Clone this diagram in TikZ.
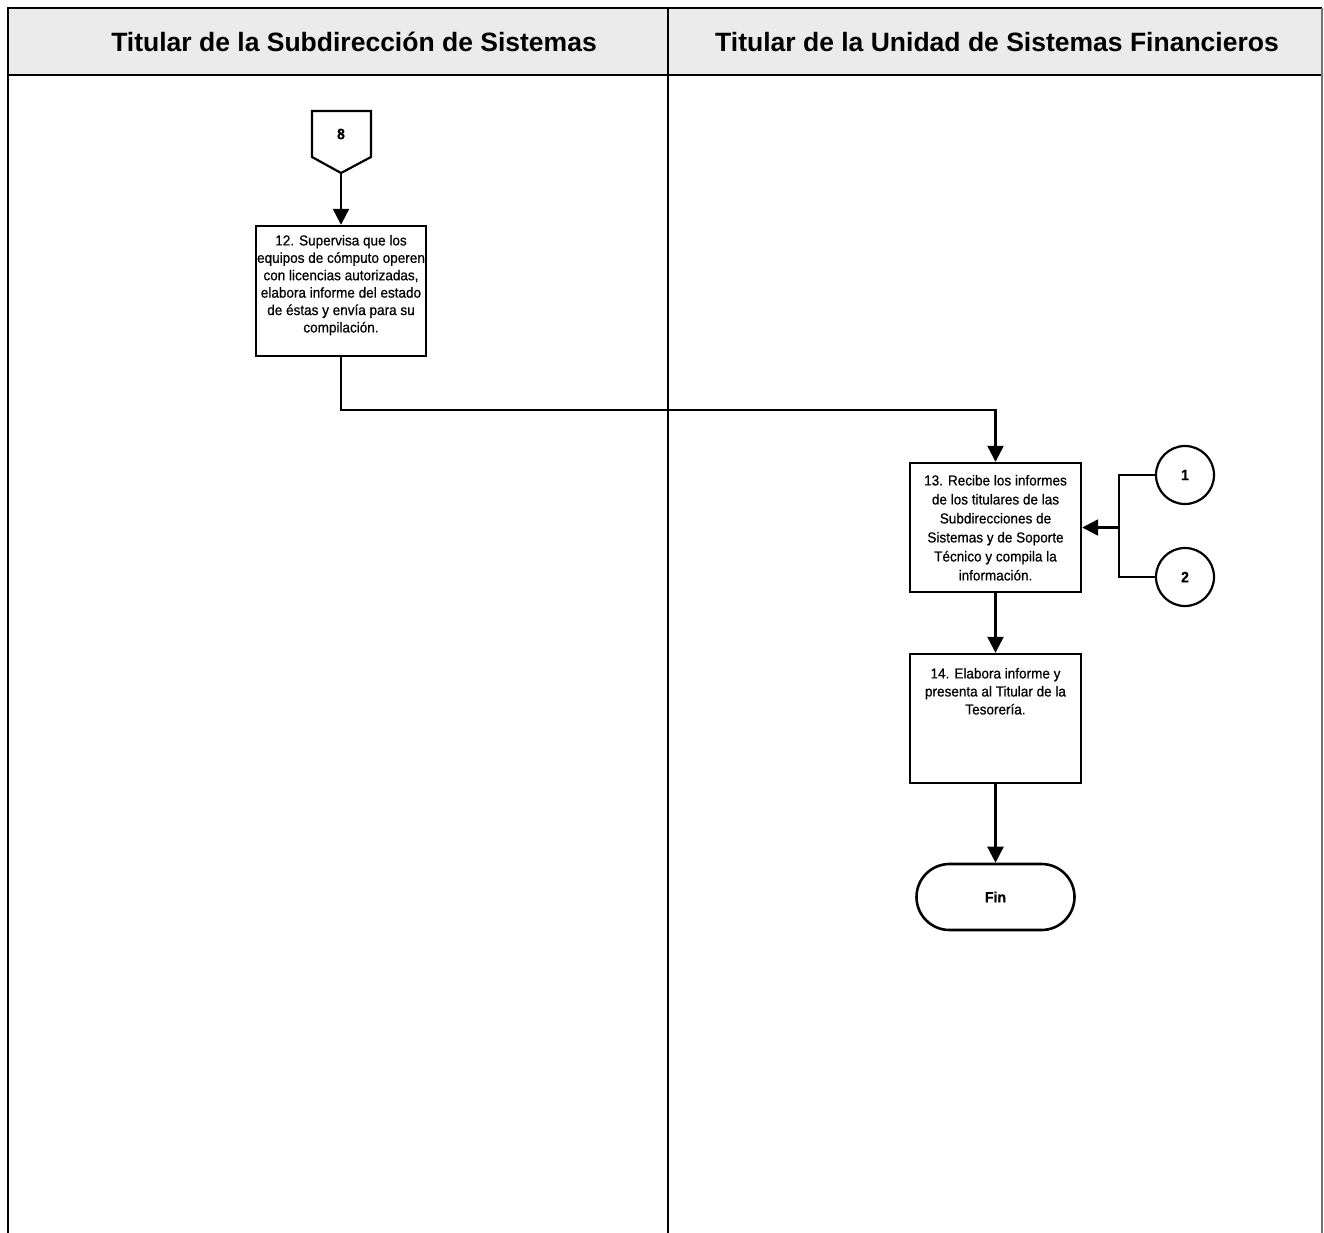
\documentclass[tikz,border=0pt]{standalone}
\usepackage{fontspec}
\setmainfont{Liberation Sans}
\newfontfamily\boxfont[FakeStretch=0.94,FakeBold=0.6]{Liberation Sans}
\newfontfamily\headfont{Liberation Sans}
\usetikzlibrary{arrows.meta,shapes.misc}

\tikzset{
  lane/.style={line width=1.6pt},
  stepbox/.style={draw, line width=2.4pt, inner sep=0pt, fill=white},
  conn/.style={draw, circle, line width=2.2pt, minimum size=58pt, inner sep=0pt, font=\boxfont\fontsize{15}{17}\selectfont\bfseries},
  term/.style={draw, rounded rectangle, line width=2.6pt, minimum width=158pt, minimum height=66pt, inner sep=0pt, font=\boxfont\fontsize{15}{17}\selectfont\bfseries},
  flow/.style={line width=2.4pt, -{Triangle[length=16pt,width=16pt]}},
  link/.style={line width=2.4pt},
  lanehead/.style={font=\headfont\fontsize{26.5}{29}\selectfont\bfseries}
}

% step box: width, height, gap above the first line, line spacing, text
\newcommand{\stepcontent}[5]{%
  \parbox[c][#2][t]{#1}{\boxfont\fontsize{14.4}{#4}\selectfont\centering
  \vspace*{#3}#5\par}}

\begin{document}
\begin{tikzpicture}[x=1pt,y=-1pt]
\useasboundingbox (0,0) rectangle (1324,1233);

% swimlane frame
\fill[gray!16] (8,8) rectangle (1322,75);
\draw[lane] (8,1233) -- (8,8) -- (1322,8);
\draw[lane] (8,75) -- (1322,75);
\draw[lane] (668,8) -- (668,1233);
\draw[line width=1.2pt, black!55] (1322,8) -- (1322,1233);
\node[lanehead] (h1) at (354,42) {Titular de la Subdirección de Sistemas};
\node[lanehead] (h2) at (997,42) {Titular de la Unidad de Sistemas Financieros};

% off-page connector 8
\draw[line width=2.2pt, fill=white] (312,111) -- (371,111) -- (371,157) -- (341,173) -- (312,157) -- cycle;
\node[font=\boxfont\fontsize{15}{17}\selectfont\bfseries] (c8) at (341,134) {8};
\coordinate (c8tip) at (341,173);

% steps
\node[stepbox] (n12) at (341,291) {\stepcontent{170pt}{130pt}{9pt}{17.4}{12. Supervisa que los\\ equipos de cómputo operen\\ con licencias autorizadas,\\ elabora informe del estado\\ de éstas y envía para su\\ compilación.}};
\node[stepbox] (n13) at (995.5,527.5) {\stepcontent{171pt}{129pt}{12pt}{19}{13. Recibe los informes\\ de los titulares de las\\ Subdirecciones de\\ Sistemas y de Soporte\\ Técnico y compila la\\ información.}};
\node[stepbox] (n14) at (995.5,718.5) {\stepcontent{171pt}{129pt}{14pt}{18}{14. Elabora informe y\\ presenta al Titular de la\\ Tesorería.}};
\node[term] (fin) at (995.5,897) {Fin};

% on-page connectors
\node[conn] (c1) at (1185,475) {1};
\node[conn] (c2) at (1185,577) {2};
\coordinate (jn) at (1119,527.5);

% flow lines
\draw[flow] (c8tip) -- (n12.north);
\draw[flow] (n12.south) -- ++(0,53) -| (n13.north);
\draw[link] (c1.west) -| (jn) |- (c2.west);
\draw[flow] (jn) -- (n13.east);
\draw[flow] (n13.south) -- (n14.north);
\draw[flow] (n14.south) -- (fin.north);
\end{tikzpicture}
\end{document}
